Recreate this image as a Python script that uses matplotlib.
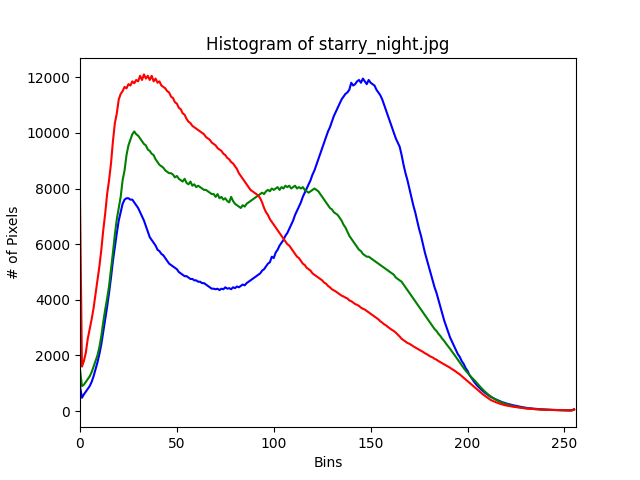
import matplotlib
matplotlib.use("Agg")
import matplotlib.pyplot as plt

# per-channel histogram counts (bins 0..255)
blue_hist = [
    900, 480, 600, 700, 800, 900, 1050, 1250, 1500, 1750,
    2050, 2400, 2850, 3300, 3750, 4250, 4800, 5400, 5900, 6400,
    6850, 7150, 7450, 7600, 7650, 7650, 7600, 7600, 7500, 7400,
    7300, 7150, 7000, 6850, 6650, 6450, 6250, 6150, 6050, 5950,
    5800, 5750, 5650, 5600, 5500, 5400, 5300, 5250, 5200, 5150,
    5100, 5000, 4950, 4900, 4850, 4850, 4800, 4750, 4750, 4700,
    4700, 4650, 4650, 4600, 4600, 4550, 4500, 4450, 4400, 4400,
    4380, 4400, 4350, 4400, 4380, 4450, 4400, 4420, 4380, 4450,
    4420, 4480, 4450, 4500, 4550, 4520, 4600, 4650, 4700, 4750,
    4800, 4850, 4900, 4950, 5050, 5100, 5200, 5300, 5350, 5550,
    5500, 5700, 5800, 5950, 6050, 6150, 6300, 6400, 6550, 6700,
    6850, 7050, 7200, 7350, 7500, 7700, 7850, 8000, 8150, 8300,
    8500, 8650, 8850, 9050, 9250, 9450, 9650, 9850, 10050, 10200,
    10400, 10600, 10750, 10900, 11050, 11200, 11300, 11400, 11450, 11550,
    11800, 11700, 11750, 11850, 11900, 11800, 11950, 11850, 11750, 11900,
    11800, 11750, 11700, 11550, 11450, 11350, 11200, 11000, 10800, 10600,
    10400, 10200, 10000, 9800, 9650, 9500, 9200, 8850, 8550, 8300,
    8000, 7700, 7400, 7150, 6850, 6550, 6300, 6000, 5700, 5450,
    5200, 4950, 4700, 4450, 4250, 4000, 3750, 3500, 3250, 3050,
    2850, 2650, 2500, 2350, 2200, 2050, 1950, 1800, 1700, 1550,
    1450, 1300, 1200, 1100, 1000, 920, 850, 780, 720, 660,
    610, 560, 510, 480, 440, 410, 380, 350, 320, 300,
    275, 255, 240, 220, 205, 190, 175, 160, 148, 135,
    122, 112, 104, 96, 90, 84, 78, 72, 67, 62,
    58, 54, 51, 48, 45, 42, 40, 38, 36, 34,
    33, 32, 31, 30, 35, 70,
]

green_hist = [
    1500, 900, 950, 1050, 1150, 1250, 1400, 1600, 1800, 2000,
    2300, 2700, 3200, 3650, 4050, 4500, 5100, 5700, 6350, 6900,
    7300, 7700, 8300, 8650, 9200, 9550, 9750, 9950, 10050, 9950,
    9900, 9800, 9700, 9600, 9550, 9400, 9350, 9250, 9200, 9050,
    8950, 8850, 8800, 8750, 8650, 8600, 8550, 8550, 8500, 8400,
    8450, 8350, 8300, 8250, 8350, 8200, 8150, 8250, 8100, 8150,
    8050, 8100, 8050, 8000, 7950, 7950, 7900, 7850, 7800, 7800,
    7700, 7800, 7650, 7700, 7600, 7650, 7550, 7500, 7700, 7550,
    7450, 7400, 7350, 7300, 7400, 7350, 7450, 7500, 7550, 7600,
    7650, 7700, 7750, 7800, 7850, 7800, 7900, 7950, 7900, 8000,
    7950, 8000, 8050, 7950, 8050, 8000, 8100, 8050, 8100, 8000,
    8050, 8100, 8000, 8050, 8000, 8050, 7950, 7900, 7850, 7900,
    7950, 8000, 7950, 7900, 7800, 7700, 7600, 7500, 7400, 7300,
    7250, 7150, 7100, 7050, 6950, 6850, 6700, 6600, 6450, 6300,
    6200, 6100, 6000, 5900, 5800, 5750, 5650, 5600, 5550, 5550,
    5500, 5450, 5400, 5350, 5300, 5250, 5200, 5150, 5100, 5050,
    5000, 4950, 4900, 4800, 4750, 4700, 4650, 4550, 4450, 4350,
    4250, 4150, 4050, 3950, 3850, 3750, 3650, 3550, 3450, 3350,
    3250, 3150, 3050, 2950, 2880, 2780, 2700, 2600, 2520, 2420,
    2330, 2240, 2140, 2050, 1950, 1850, 1750, 1650, 1550, 1460,
    1380, 1300, 1220, 1150, 1080, 1000, 920, 840, 770, 700,
    640, 580, 530, 480, 440, 400, 365, 330, 300, 275,
    250, 230, 210, 190, 175, 160, 148, 136, 125, 115,
    106, 98, 90, 84, 78, 72, 67, 62, 58, 54,
    50, 47, 44, 42, 40, 38, 36, 34, 32, 31,
    30, 29, 28, 27, 30, 55,
]

red_hist = [
    7600, 1600, 1800, 2100, 2600, 2950, 3300, 3700, 4200, 4700,
    5200, 5800, 6500, 7100, 7800, 8300, 8900, 9700, 10350, 10700,
    11200, 11400, 11500, 11650, 11600, 11750, 11700, 11850, 11780, 11900,
    11850, 12050, 11900, 12100, 11950, 12050, 11900, 12050, 11850, 11950,
    11800, 11850, 11700, 11650, 11600, 11500, 11450, 11300, 11250, 11100,
    11050, 10900, 10850, 10700, 10650, 10500, 10400, 10350, 10250, 10200,
    10150, 10100, 10050, 10000, 9950, 9850, 9800, 9750, 9650, 9600,
    9550, 9450, 9400, 9350, 9250, 9200, 9100, 9050, 8950, 8900,
    8800, 8700, 8550, 8450, 8350, 8250, 8150, 8050, 7950, 7900,
    7850, 7800, 7750, 7650, 7500, 7300, 7150, 7050, 6900, 6800,
    6700, 6600, 6500, 6400, 6300, 6200, 6100, 6000, 5950, 5850,
    5750, 5650, 5550, 5500, 5400, 5300, 5250, 5150, 5100, 5050,
    4950, 4900, 4850, 4800, 4750, 4700, 4620, 4580, 4500, 4450,
    4380, 4340, 4300, 4250, 4200, 4150, 4120, 4080, 4050, 3980,
    3950, 3900, 3850, 3820, 3780, 3720, 3680, 3650, 3600, 3550,
    3500, 3450, 3400, 3350, 3300, 3230, 3180, 3120, 3080, 3020,
    2970, 2920, 2880, 2820, 2750, 2680, 2600, 2550, 2500, 2450,
    2420, 2380, 2330, 2290, 2250, 2210, 2170, 2130, 2080, 2050,
    2000, 1960, 1930, 1880, 1850, 1800, 1760, 1720, 1680, 1640,
    1600, 1560, 1510, 1470, 1420, 1370, 1320, 1260, 1200, 1140,
    1080, 1020, 960, 900, 840, 780, 720, 660, 600, 550,
    500, 450, 400, 370, 340, 310, 285, 260, 240, 220,
    205, 190, 180, 165, 155, 145, 135, 125, 115, 105,
    98, 92, 86, 80, 75, 70, 66, 62, 58, 55,
    52, 50, 48, 46, 44, 42, 40, 38, 36, 34,
    32, 30, 28, 27, 30, 60,
]

channels = ('b', 'g', 'r')
hists = [blue_hist, green_hist, red_hist]

plt.figure(figsize=(6.4, 4.8), dpi=100)
for col, h in zip(channels, hists):
    plt.plot(range(len(h)), h, color=col)
plt.xlim([0, 256])
plt.title('Histogram of starry_night.jpg')
plt.xlabel('Bins')
plt.ylabel('# of Pixels')
plt.savefig('out.png')
